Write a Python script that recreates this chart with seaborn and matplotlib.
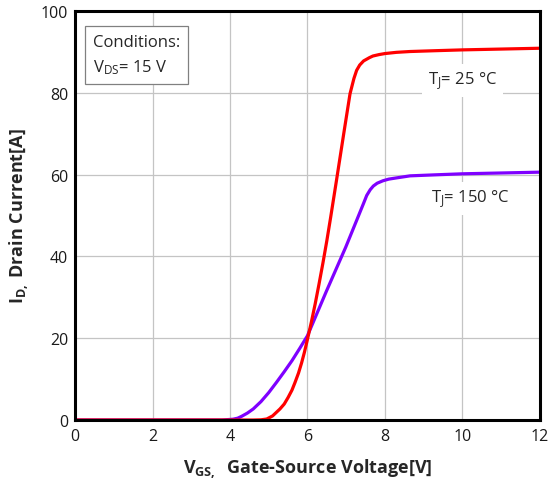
import matplotlib
matplotlib.use("Agg")
import matplotlib.pyplot as plt
import seaborn as sns
import pandas as pd

# Data
vgs_25 = [0, 4.6, 4.8, 4.95, 5.1, 5.29, 5.4, 5.5, 5.6, 5.68, 5.77, 5.85, 5.92, 6.0, 6.1, 6.2,
          6.3, 6.4, 6.5, 6.6, 6.75, 6.95, 7.1, 7.2, 7.27, 7.35, 7.45, 7.6, 7.69, 7.85, 8.0,
          8.3, 8.65, 9.3, 10, 11, 12]
id_25 = [0, 0, 0.05, 0.25, 1.0, 2.7, 3.9, 5.5, 7.3, 9.2, 11.5, 14, 16.5, 19.7, 23.9, 28.4,
         33.3, 38.4, 43.8, 49.6, 58.6, 70.8, 79.8, 83.5, 85.5, 86.8, 87.8, 88.6, 89, 89.35, 89.6,
         89.9, 90.1, 90.3, 90.5, 90.7, 90.9]
vgs_150 = [0, 3.8, 4.08, 4.2, 4.3, 4.45, 4.6, 4.8, 5.0, 5.2, 5.4, 5.6, 5.8, 6.0, 6.49, 6.99,
           7.3, 7.45, 7.53, 7.62, 7.7, 7.8, 7.95, 8.1, 8.3, 8.65, 9.3, 10, 11, 12]
id_150 = [0, 0, 0.2, 0.45, 0.9, 1.7, 2.7, 4.5, 6.7, 9.2, 11.8, 14.5, 17.5, 20.6, 31.5, 42.3,
          49.5, 53, 54.9, 56.3, 57.2, 57.9, 58.5, 58.9, 59.2, 59.7, 59.95, 60.2, 60.4, 60.6]
x_ticks = [0, 2, 4, 6, 8, 10, 12]
y_ticks = [0, 20, 40, 60, 80, 100]

sns.set_style("white")
plt.rcParams['font.family'] = ['Open Sans', 'DejaVu Sans']
plt.rcParams['mathtext.fontset'] = 'custom'
plt.rcParams['mathtext.rm'] = 'Open Sans'
plt.rcParams['mathtext.bf'] = 'Open Sans:bold'
plt.rcParams['mathtext.it'] = 'Open Sans:italic'

df = pd.concat([
    pd.DataFrame({"VGS": vgs_25, "ID": id_25, "T": "25"}),
    pd.DataFrame({"VGS": vgs_150, "ID": id_150, "T": "150"}),
])

fig = plt.figure(figsize=(5.6, 4.81), dpi=100)
ax = fig.add_axes([0.134, 0.1247, 0.830, 0.8503])

sns.lineplot(data=df, x="VGS", y="ID", hue="T", palette={"25": "#FF0000", "150": "#7F00FF"},
             hue_order=["150", "25"], linewidth=2.3, legend=False, ax=ax, sort=False,
             estimator=None)
for ln in ax.lines:
    ln.set_solid_joinstyle("round")
    ln.set_solid_capstyle("round")

ax.set_xlim(0, 12)
ax.set_ylim(0, 100)
ax.set_xticks(x_ticks)
ax.set_yticks(y_ticks)
ax.grid(True, color="#c4c4c4", linewidth=0.9)
ax.set_axisbelow(True)
for s in ax.spines.values():
    s.set_color("black")
    s.set_linewidth(2.2)
ax.tick_params(length=0, labelsize=11.5, colors="#1a1a1a")
ax.tick_params(axis="x", pad=6)
ax.tick_params(axis="y", pad=5)

ax.set_xlabel(r"V$_{\mathbf{GS,}}$  Gate-Source Voltage[V]", fontsize=13, fontweight="bold", labelpad=9)
ax.set_ylabel(r"I$_{\mathbf{D,}}$ Drain Current[A]", fontsize=13, fontweight="bold", labelpad=7)

ax.text(0.46, 94.4, "Conditions:\nV$_{\\mathrm{DS}}$= 15 V", fontsize=12, va="top", ha="left",
        linespacing=1.5,
        bbox=dict(boxstyle="square,pad=0.5", facecolor="white", edgecolor="#808080", linewidth=0.9))
ax.text(10.0, 83.0, "T$_{\\mathrm{J}}$= 25 °C", fontsize=12, ha="center", va="center",
        bbox=dict(boxstyle="square,pad=0.35", facecolor="white", edgecolor="none"))
ax.text(10.2, 54.2, "T$_{\\mathrm{J}}$= 150 °C", fontsize=12, ha="center", va="center",
        bbox=dict(boxstyle="square,pad=0.35", facecolor="white", edgecolor="none"))

fig.savefig("out.png", dpi=100)
